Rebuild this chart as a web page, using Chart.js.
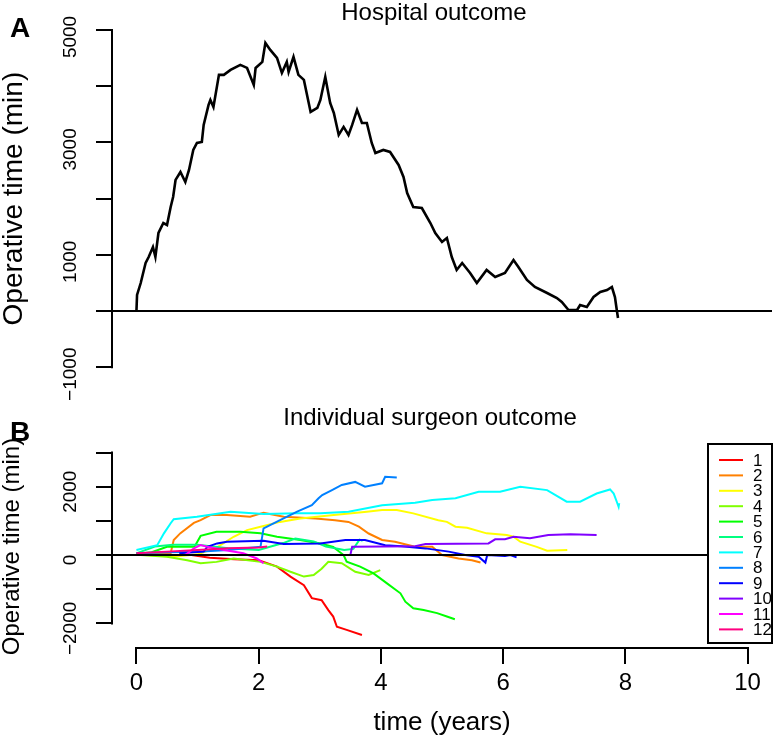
<!DOCTYPE html>
<html>
    <head>
        <meta charset="UTF-8" />
        <title>Operative time CUSUM</title>
        <style type="text/css">
            body { margin: 0; background: #fff; }
            .wrap { position: relative; width: 774px; height: 738px; overflow: hidden; font-family: "Liberation Sans", Arial, sans-serif; }
            .chartBox { position: absolute; left: 0; width: 774px; }
            #boxA { top: 0; height: 400px; }
            #boxB { top: 380px; height: 358px; }
            .lbl { position: absolute; white-space: nowrap; line-height: 1; color: #000; }
        </style>
    </head>
    <body>
        <div class="wrap">
            <div class="chartBox" id="boxA"><canvas id="chartA" width="774" height="400"></canvas></div>
            <div class="chartBox" id="boxB"><canvas id="chartB" width="774" height="358"></canvas></div>
            <div class="lbl" style="left:10px; top:14px; font-size:28px; font-weight:bold;">A</div>
            <div class="lbl" style="left:10px; top:418px; font-size:28px; font-weight:bold;">B</div>
            <div class="lbl" style="left:434px; top:0px; font-size:24px; transform:translateX(-50%);">Hospital outcome</div>
            <div class="lbl" style="left:430px; top:405px; font-size:24px; transform:translateX(-50%);">Individual surgeon outcome</div>
        </div>

        <script src="https://cdn.jsdelivr.net/npm/chart.js"></script>
        <script>
            // hospital CUSUM (years, minutes)
            const hospT = [0, 0.01, 0.07, 0.15, 0.20, 0.27, 0.31, 0.36, 0.44, 0.50, 0.56, 0.60, 0.64, 0.72, 0.80, 0.86, 0.93, 0.99, 1.07, 1.10,
                1.18, 1.21, 1.26, 1.35, 1.43, 1.54, 1.70, 1.81, 1.92, 1.95, 2.06, 2.11, 2.19, 2.30, 2.38, 2.46, 2.49, 2.57, 2.65, 2.74,
                2.85, 2.96, 3.01, 3.09, 3.17, 3.23, 3.31, 3.39, 3.47, 3.53, 3.61, 3.69, 3.77, 3.85, 3.91, 4.04, 4.15, 4.29, 4.37, 4.43,
                4.53, 4.67, 4.81, 4.89, 5.00, 5.08, 5.16, 5.24, 5.33, 5.46, 5.57, 5.73, 5.87, 6.03, 6.17, 6.25, 6.39, 6.52, 6.72, 6.88,
                6.96, 7.07, 7.21, 7.26, 7.37, 7.48, 7.59, 7.70, 7.78, 7.83, 7.86, 7.88];
            const hospV = [0, 285, 498, 854, 961, 1139, 961, 1388, 1566, 1531, 1851, 2029, 2332, 2474, 2296, 2510, 2866, 2990, 3008, 3311,
                3667, 3756, 3631, 4201, 4201, 4290, 4379, 4325, 4023, 4325, 4432, 4770, 4646, 4503, 4236, 4432, 4254, 4521, 4201, 4112,
                3542, 3613, 3756, 4165, 3702, 3524, 3133, 3275, 3133, 3311, 3578, 3346, 3346, 2990, 2812, 2866, 2830, 2599, 2385, 2100,
                1851, 1833, 1566, 1388, 1228, 1299, 961, 730, 854, 676, 498, 730, 605, 676, 908, 783, 552, 427, 320, 231,
                160, 18, 18, 107, 71, 249, 338, 374, 427, 249, 18, -125];

            // individual surgeons
            const surgeonLabels = ['1', '2', '3', '4', '5', '6', '7', '8', '9', '10', '11', '12'];
            const surgeonColors = ['#FF0000', '#FF8000', '#FFFF00', '#80FF00', '#00FF00', '#00FF80',
                '#00FFFF', '#0080FF', '#0000FF', '#8000FF', '#FF00FF', '#FF0080'];
            const s1T = [0.9, 1.2, 1.6, 2.0, 2.3, 2.52, 2.74, 2.87, 3.03, 3.14, 3.22, 3.28, 3.44, 3.69];
            const s1V = [0, -80, -120, -150, -340, -630, -880, -1260, -1320, -1610, -1800, -2100, -2190, -2340];
            const s2T = [0, 0.3, 0.56, 0.61, 0.72, 0.94, 1.05, 1.21, 1.48, 1.86, 2.08, 2.41, 2.93, 3.25, 3.47, 3.64, 3.80, 4.02, 4.23, 4.56, 4.84, 5.00, 5.27, 5.49, 5.63];
            const s2V = [50, 60, 50, 440, 640, 940, 1020, 1170, 1170, 1120, 1240, 1120, 1070, 1020, 970, 830, 630, 440, 390, 240, 240, 0, -100, -150, -220];
            const s3T = [0.2, 0.6, 1.0, 1.3, 1.59, 1.81, 2.03, 2.35, 2.68, 3.23, 3.77, 4.02, 4.26, 4.53, 4.94, 5.08, 5.22, 5.41, 5.73, 6.06, 6.17, 6.28, 6.55, 6.72, 7.05];
            const s3V = [0, -50, 20, 200, 535, 730, 830, 970, 1070, 1170, 1270, 1320, 1320, 1220, 1020, 970, 830, 800, 635, 585, 535, 390, 240, 125, 146];
            const s4T = [0.07, 0.5, 0.83, 1.05, 1.31, 1.59, 2.03, 2.30, 2.52, 2.74, 2.90, 3.03, 3.14, 3.36, 3.58, 3.80, 3.99];
            const s4V = [0, -50, -150, -240, -200, -100, -200, -340, -490, -630, -585, -400, -195, -240, -490, -585, -440];
            const s5T = [0, 0.25, 0.5, 0.95, 1.05, 1.31, 1.70, 2.03, 2.30, 2.68, 3.01, 3.22, 3.39, 3.44, 3.66, 3.88, 4.10, 4.32, 4.40, 4.53, 4.70, 4.92, 5.08, 5.21];
            const s5V = [30, 80, 240, 240, 560, 680, 680, 635, 535, 440, 340, 240, 0, -195, -340, -535, -830, -1120, -1365, -1560, -1610, -1700, -1800, -1880];
            const s6T = [0, 0.3, 0.6, 1.0, 1.5, 2.0, 2.4, 2.6, 2.9, 3.1, 3.4, 3.55, 3.65, 3.7];
            const s6V = [50, 250, 300, 300, 200, 150, 350, 480, 400, 250, 150, 180, 450, 420];
            const s7T = [0, 0.34, 0.45, 0.56, 0.61, 0.99, 1.54, 2.08, 2.63, 3.01, 3.47, 4.02, 4.56, 4.84, 5.22, 5.60, 5.95, 6.28, 6.72, 7.04, 7.26, 7.53, 7.75, 7.81, 7.86, 7.89, 7.90];
            const s7V = [146, 290, 635, 930, 1050, 1120, 1270, 1200, 1220, 1220, 1270, 1460, 1530, 1610, 1660, 1850, 1850, 2000, 1900, 1560, 1560, 1800, 1920, 1800, 1560, 1410, 1520];
            const s8T = [0, 0.5, 1.0, 1.5, 2.03, 2.08, 2.35, 2.63, 2.87, 2.98, 3.04, 3.20, 3.36, 3.58, 3.74, 4.02, 4.07, 4.26];
            const s8V = [50, 80, 100, 150, 240, 780, 1020, 1270, 1460, 1660, 1755, 1900, 2050, 2140, 2000, 2100, 2290, 2270];
            const s9T = [0.7, 1.1, 1.16, 1.32, 1.48, 2.08, 2.41, 3.01, 3.42, 3.74, 4.07, 4.34, 4.73, 5.11, 5.38, 5.60, 5.71, 5.74, 6.03, 6.12, 6.22];
            const s9V = [50, 100, 240, 340, 390, 420, 320, 340, 440, 440, 290, 260, 195, 100, 0, -50, -220, 0, -30, 0, -70];
            const s10T = [2.9, 3.5, 3.53, 4.56, 4.73, 5.76, 5.87, 6.03, 6.17, 6.44, 6.74, 7.10, 7.53];
            const s10V = [0, 0, 240, 260, 320, 340, 460, 460, 535, 490, 585, 605, 585];
            const s11T = [0.8, 0.94, 1.05, 1.16, 1.43, 1.75, 1.97, 2.08];
            const s11V = [0, 195, 290, 240, 146, 50, -100, -240];
            const s12T = [0, 0.5, 1.0, 1.5, 2.0, 2.14];
            const s12V = [50, 100, 150, 200, 220, 250];

            // tick marks and which of them carry a label
            const xTicks = [0, 2, 4, 6, 8, 10];
            const yMarksA = [-1000, 0, 1000, 2000, 3000, 4000, 5000];
            const yTicksA = [-1000, 1000, 3000, 5000];
            const yMarksB = [-2000, -1000, 0, 1000, 2000, 3000];
            const yTicksB = [-2000, 0, 2000];

            const surgeonT = [s1T, s2T, s3T, s4T, s5T, s6T, s7T, s8T, s9T, s10T, s11T, s12T];
            const surgeonV = [s1V, s2V, s3V, s4V, s5V, s6V, s7V, s8V, s9V, s10V, s11V, s12V];

            const FONT = '"Liberation Sans", Arial, sans-serif';
            const fmt = v => (v < 0 ? '\u2212' + Math.abs(v) : String(v));
            const pts = (t, v) => t.map((x, i) => ({x: x, y: v[i]}));

            // R style axis lines (first to last tick) with outward tick marks
            const rAxes = {
                id: 'rAxes',
                afterDraw(chart, args, opts) {
                    const ctx = chart.ctx;
                    const x = chart.scales.x, y = chart.scales.y, a = chart.chartArea;
                    ctx.save();
                    ctx.strokeStyle = '#000';
                    ctx.lineWidth = 2;
                    ctx.lineCap = 'square';
                    ctx.beginPath();
                    ctx.moveTo(a.left, y.getPixelForValue(opts.yMarks[0]));
                    ctx.lineTo(a.left, y.getPixelForValue(opts.yMarks[opts.yMarks.length - 1]));
                    opts.yMarks.forEach(v => {
                        const py = Math.round(y.getPixelForValue(v));
                        ctx.moveTo(a.left, py);
                        ctx.lineTo(a.left - 15, py);
                    });
                    if (opts.xMarks) {
                        ctx.moveTo(x.getPixelForValue(opts.xMarks[0]), a.bottom);
                        ctx.lineTo(x.getPixelForValue(opts.xMarks[opts.xMarks.length - 1]), a.bottom);
                        opts.xMarks.forEach(v => {
                            const px = Math.round(x.getPixelForValue(v));
                            ctx.moveTo(px, a.bottom);
                            ctx.lineTo(px, a.bottom + 15);
                        });
                    }
                    ctx.stroke();
                    ctx.restore();
                }
            };

            // boxed legend in the top right corner
            const boxLegend = {
                id: 'boxLegend',
                afterDraw(chart, args, opts) {
                    if (!opts.show) return;
                    const ctx = chart.ctx, a = chart.chartArea;
                    const w = 64, h = 199;
                    const left = a.right - w, top = a.top - 1;
                    ctx.save();
                    ctx.fillStyle = '#fff';
                    ctx.fillRect(left, top, w, h);
                    ctx.strokeStyle = '#000';
                    ctx.lineWidth = 2;
                    ctx.strokeRect(left, top, w, h);
                    ctx.font = '17px ' + FONT;
                    ctx.textBaseline = 'middle';
                    ctx.textAlign = 'left';
                    surgeonLabels.forEach((lab, i) => {
                        const yy = top + 16 + i * 15.4;
                        ctx.strokeStyle = surgeonColors[i];
                        ctx.beginPath();
                        ctx.moveTo(left + 11, yy);
                        ctx.lineTo(left + 35, yy);
                        ctx.stroke();
                        ctx.fillStyle = '#000';
                        ctx.fillText(lab, left + 45, yy + 1);
                    });
                    ctx.restore();
                }
            };

            function yScale(min, max, marks, labels, fontSize, shift, title, titleSize) {
                return {
                    type: 'linear', min: min, max: max,
                    border: {display: false},
                    grid: {display: false, drawOnChartArea: false, drawTicks: true, tickLength: 15},
                    ticks: {
                        minRotation: 90, maxRotation: 90, autoSkip: false, labelOffset: shift,
                        crossAlign: 'center', padding: 0, color: '#000',
                        font: {family: FONT, size: fontSize},
                        callback: v => (labels.includes(v) ? fmt(v) : '')
                    },
                    title: {display: true, text: title, color: '#000', padding: 0,
                        font: {family: FONT, size: titleSize, lineHeight: 1}},
                    afterBuildTicks: s => { s.ticks = marks.map(v => ({value: v})); },
                    afterFit: s => { s.width = 112; s.paddingTop = 0; s.paddingBottom = 0; }
                };
            }

            const zeroLine = {data: [{x: -0.4, y: 0}, {x: 10.4, y: 0}], borderColor: '#000', borderWidth: 2, pointRadius: 0, order: 0};

            new Chart(document.getElementById('chartA'), {
                type: 'line',
                data: {
                    datasets: [
                        zeroLine,
                        {label: 'Hospital', data: pts(hospT, hospV), borderColor: '#000', borderWidth: 2.6, pointRadius: 0, tension: 0, order: 1}
                    ]
                },
                options: {
                    responsive: false, animation: false,
                    layout: {padding: {left: 0, right: 2, top: 16.5, bottom: 19.3}},
                    plugins: {legend: {display: false}, tooltip: {enabled: false},
                        rAxes: {yMarks: yMarksA, xMarks: null}, boxLegend: {show: false}},
                    scales: {
                        x: {type: 'linear', min: -0.4, max: 10.4, display: false},
                        y: yScale(-1240, 5240, yMarksA, yTicksA, 19, 7, 'Operative time (min)', 28)
                    }
                },
                plugins: [rAxes, boxLegend]
            });

            const surgeonSets = surgeonT.map((t, i) => ({
                label: surgeonLabels[i], data: pts(t, surgeonV[i]), borderColor: surgeonColors[i],
                borderWidth: 2, pointRadius: 0, tension: 0, order: 13 - i
            }));

            new Chart(document.getElementById('chartB'), {
                type: 'line',
                data: {datasets: [Object.assign({}, zeroLine)].concat(surgeonSets)},
                options: {
                    responsive: false, animation: false,
                    layout: {padding: {left: 0, right: 2, top: 65, bottom: 0}},
                    plugins: {legend: {display: false}, tooltip: {enabled: false},
                        rAxes: {yMarks: yMarksB, xMarks: xTicks}, boxLegend: {show: true}},
                    scales: {
                        x: {
                            type: 'linear', min: -0.4, max: 10.4,
                            border: {display: false},
                            grid: {display: false, drawOnChartArea: false, drawTicks: true, tickLength: 15},
                            ticks: {maxRotation: 0, autoSkip: false, padding: 6, color: '#000',
                                font: {family: FONT, size: 24},
                                callback: v => String(v)},
                            title: {display: true, text: 'time (years)', color: '#000', padding: {top: 0, bottom: 2},
                                font: {family: FONT, size: 26, lineHeight: 1}},
                            afterBuildTicks: s => { s.ticks = xTicks.map(v => ({value: v})); },
                            afterFit: s => { s.height = 90; s.paddingLeft = 0; s.paddingRight = 0; }
                        },
                        y: yScale(-2720, 3220, yMarksB, yTicksB, 19, 5, 'Operative time (min)', 24)
                    }
                },
                plugins: [rAxes, boxLegend]
            });
        </script>
    </body>
</html>
